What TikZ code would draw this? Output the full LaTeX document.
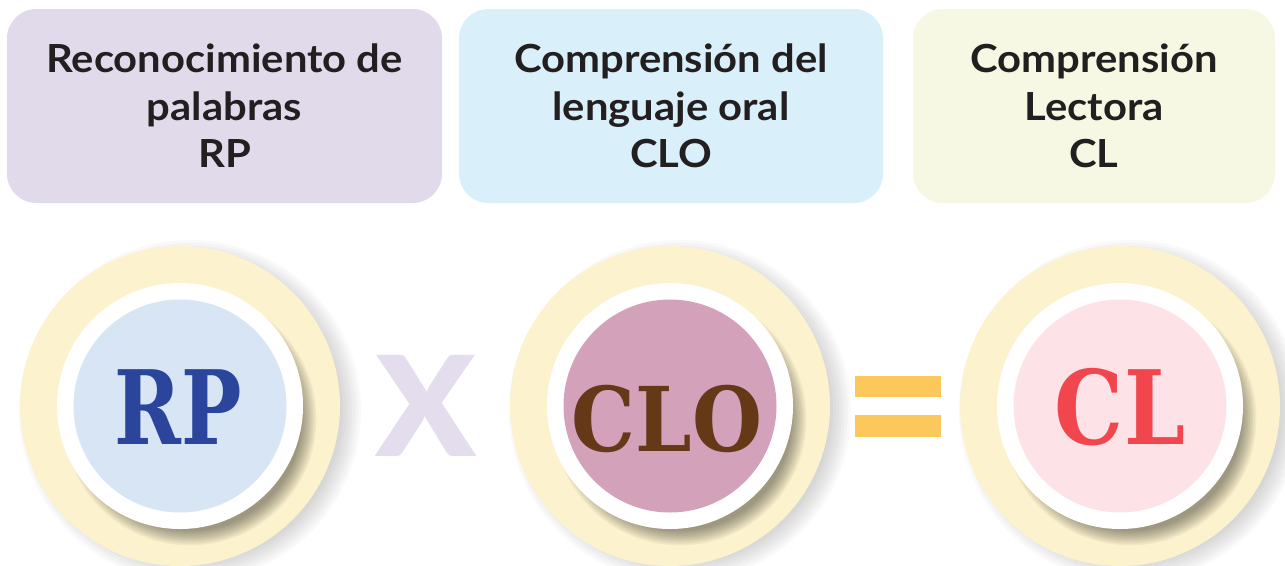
\documentclass[tikz,border=0pt]{standalone}
\usepackage{fontspec}
\setmainfont{Lato}
\newfontfamily\headfont{Lato}[FakeStretch=1.08]
\newfontfamily\slabfont{DejaVu Serif Condensed}
\usepackage{tikz}

\definecolor{boxRP}{HTML}{E1DAEB}
\definecolor{boxCLO}{HTML}{D9EFFA}
\definecolor{boxCL}{HTML}{F6F8E3}
\definecolor{headtext}{HTML}{231F20}
\definecolor{ringyellow}{HTML}{FCF2CE}
\definecolor{discRP}{HTML}{D8E5F4}
\definecolor{discCLO}{HTML}{D4A1BB}
\definecolor{discCL}{HTML}{FDE3E8}
\definecolor{textRP}{HTML}{2B449C}
\definecolor{textCLO}{HTML}{653818}
\definecolor{textCL}{HTML}{F2464F}
\definecolor{timeslilac}{HTML}{E3DDEE}
\definecolor{equalsgold}{HTML}{FCC85C}

\begin{document}
\begin{tikzpicture}[x=0.75pt,y=-0.75pt]

\tikzstyle{heading}=[rectangle,rounded corners={22pt},minimum height={145.5pt},inner sep={0pt},align={center},text=headtext,font={\headfont\bfseries\fontsize{29pt}{35.6pt}\selectfont}]
\tikzstyle{ring}=[circle,fill=ringyellow,minimum size={240pt},inner sep={0pt}]
\tikzstyle{rim}=[circle,fill=white,minimum size={184.5pt},inner sep={0pt}]
\tikzstyle{disc}=[circle,minimum size={159.75pt},inner sep={0pt}]
\tikzstyle{letters}=[inner sep={0pt},font={\slabfont\bfseries\fontsize{77pt}{77pt}\selectfont}]
\tikzstyle{bar}=[rectangle,fill=equalsgold,minimum width={64.5pt},minimum height={16pt},inner sep={0pt}]

\useasboundingbox (0,0) rectangle (1285,565);

% headings: boxes

\node at (224.5,106) [heading,fill=boxRP,minimum width={326.25pt}] (HRP) {Reconocimiento de\\palabras\\RP} ;
\node at (671,106)   [heading,fill=boxCLO,minimum width={318pt}]   (HCLO) {Comprensión del\\lenguaje oral\\CLO} ;
\node at (1094,106)  [heading,fill=boxCL,minimum width={271.5pt}]  (HCL) {Comprensión\\Lectora\\CL} ;

% circles: centres

\coordinate (cRP)  at (180,406) ;
\coordinate (cCLO) at (670,406) ;
\coordinate (cCL)  at (1120,406) ;

% circles: soft shadows of the rings

\foreach \c in {cRP,cCLO,cCL} {
  \foreach \k in {0,...,7}
    \fill [black,opacity=0.022] ([shift={(10,5)}] \c) circle ({150+3*\k}) ;
}

% circles: rings

\node at (cRP)  [ring] (RPring) {} ;
\node at (cCLO) [ring] (CLOring) {} ;
\node at (cCL)  [ring] (CLring) {} ;

% circles: shadows of the rims

\foreach \c in {RPring,CLOring,CLring} {
  \foreach \k in {0,...,9}
    \fill [black,opacity=0.045] ([shift={(10,13)}] \c.center) circle ({112+1.6*\k}) ;
}

% circles: rims and discs

\node at (RPring.center)  [rim] (RPrim) {} ;
\node at (CLOring.center) [rim] (CLOrim) {} ;
\node at (CLring.center)  [rim] (CLrim) {} ;

\node at (RPrim.center)  [disc,fill=discRP]  (RPdisc) {} ;
\node at (CLOrim.center) [disc,fill=discCLO] (CLOdisc) {} ;
\node at (CLrim.center)  [disc,fill=discCL]  (CLdisc) {} ;

% circles: letters

\node at ([shift={(-1.5,1.5)}] RPdisc.center) [letters,text=textRP] (RP) {\scalebox{0.87}[1]{RP}} ;
\node at ([shift={(-3,13)}] CLOdisc.center) [letters,text=textCLO,font={\slabfont\bfseries\fontsize{67pt}{67pt}\selectfont}] (CLO) {CLO} ;
\node at ([shift={(0,1.5)}] CLdisc.center) [letters,text=textCL] (CL) {\scalebox{0.94}[1]{CL}} ;

% operators

\node at (425.5,406) [inner sep={0pt},text=timeslilac,font={\bfseries\fontsize{148pt}{148pt}\selectfont}] (times) {x} ;
\node at (898,386.5) [bar] (eqtop) {} ;
\node at (898,426)   [bar] (eqbot) {} ;

\end{tikzpicture}
\end{document}
